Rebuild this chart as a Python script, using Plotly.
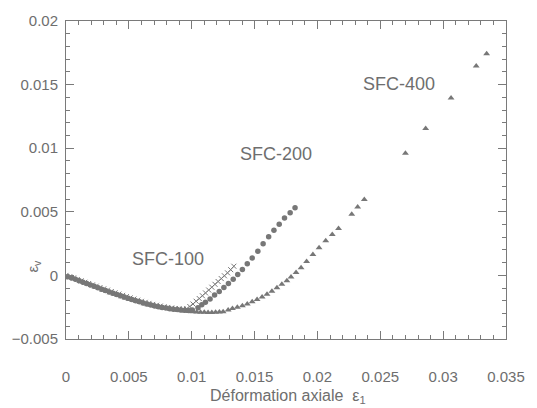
import plotly.graph_objects as go

# SFC-100 (crosses)
sfc100_x = [0.0, 0.0003, 0.0006, 0.0009, 0.0012, 0.0015, 0.0018, 0.0021, 0.0024, 0.0027,
            0.0030, 0.0033, 0.0036, 0.0039, 0.0042, 0.0045, 0.0048, 0.0051, 0.0054, 0.0057,
            0.0060, 0.0063, 0.0066, 0.0069, 0.0072, 0.0075, 0.0078, 0.0081, 0.0084, 0.0087,
            0.0090, 0.0093,
            0.00960, 0.00985, 0.01010, 0.01035, 0.01060, 0.01085, 0.01110, 0.01135, 0.01160,
            0.01185, 0.01210, 0.01235, 0.01260, 0.01285, 0.01310, 0.01335]
sfc100_y = [0.0, -0.0001, -0.0002, -0.00032, -0.00043, -0.00054, -0.00064, -0.00075, -0.00085, -0.00096,
            -0.00106, -0.00116, -0.00127, -0.00137, -0.00147, -0.00157, -0.00167, -0.00177, -0.00186, -0.00195,
            -0.00204, -0.00212, -0.0022, -0.00228, -0.00235, -0.00241, -0.00247, -0.00252, -0.00256, -0.0026,
            -0.00263, -0.00265,
            -0.00262, -0.00245, -0.00225, -0.00203, -0.00182, -0.00160, -0.00138, -0.00115, -0.00093,
            -0.00070, -0.00048, -0.00025, -0.00003, 0.00020, 0.00045, 0.00072]

# SFC-200 (circles)
sfc200_x = [0.00015, 0.00045, 0.00075, 0.00105, 0.00135, 0.00165, 0.00195, 0.00225, 0.00255, 0.00285,
            0.00315, 0.00345, 0.00375, 0.00405, 0.00435, 0.00465, 0.00495, 0.00525, 0.00555, 0.00585,
            0.00615, 0.00645, 0.00675, 0.00705, 0.00735, 0.00765, 0.00795, 0.00825, 0.00855, 0.00885,
            0.00915, 0.00945, 0.00975, 0.01005,
            0.01050, 0.01080, 0.01109, 0.01146, 0.01182, 0.01219, 0.01256, 0.01292, 0.01330, 0.01366,
            0.01403, 0.01442, 0.01481, 0.01526, 0.01568, 0.01612, 0.01654, 0.01696, 0.01738, 0.01783,
            0.01822]
sfc200_y = [-0.0001, -0.0002, -0.0003, -0.00042, -0.00053, -0.00064, -0.00075, -0.00086, -0.00097, -0.00108,
            -0.00119, -0.0013, -0.0014, -0.0015, -0.0016, -0.0017, -0.0018, -0.0019, -0.00199, -0.00208,
            -0.00217, -0.00225, -0.00233, -0.0024, -0.00246, -0.00252, -0.00257, -0.00262, -0.00266, -0.00269,
            -0.00272, -0.00274, -0.00275, -0.00272,
            -0.00255, -0.00230, -0.00211, -0.00185, -0.00154, -0.00126, -0.00095, -0.00064, -0.00030, 0.00008,
            0.00047, 0.00091, 0.00137, 0.00189, 0.00248, 0.00303, 0.00354, 0.00403, 0.00452, 0.00493,
            0.00532]

# SFC-400 (triangles)
sfc400_x = [0.0002, 0.0005, 0.0008, 0.0011, 0.0014, 0.0017, 0.0020, 0.0023, 0.0026, 0.0029,
            0.0032, 0.0035, 0.0038, 0.0041, 0.0044, 0.0047, 0.0050, 0.0053, 0.0056, 0.0059,
            0.0062, 0.0065, 0.0068, 0.0071, 0.0074, 0.0077, 0.0080, 0.0083, 0.0086, 0.0089,
            0.0092, 0.0095, 0.0098, 0.0101, 0.0104, 0.0107, 0.0110, 0.0113, 0.0116, 0.0119,
            0.0122,
            0.01250, 0.01290, 0.01324, 0.01363, 0.01403, 0.01442, 0.01481, 0.01520, 0.01560, 0.01599,
            0.01638, 0.01678, 0.01717, 0.01757, 0.01790, 0.01830, 0.01870, 0.01914, 0.01964, 0.02013,
            0.02066, 0.02118, 0.02168, 0.02273, 0.02320, 0.02373,
            0.02700, 0.02861, 0.03063, 0.03263, 0.03346]
sfc400_y = [-0.0001, -0.0002, -0.00032, -0.00044, -0.00056, -0.00068, -0.0008, -0.00092, -0.00103, -0.00114,
            -0.00125, -0.00136, -0.00147, -0.00157, -0.00167, -0.00177, -0.00187, -0.00196, -0.00205, -0.00214,
            -0.00222, -0.0023, -0.00237, -0.00244, -0.0025, -0.00256, -0.00261, -0.00266, -0.0027, -0.00274,
            -0.00277, -0.0028, -0.00283, -0.00285, -0.00287, -0.00289, -0.0029, -0.00291, -0.00291, -0.0029,
            -0.00288,
            -0.00285, -0.00272, -0.00260, -0.00250, -0.00238, -0.00224, -0.00208, -0.00190, -0.00170, -0.00148,
            -0.00124, -0.00098, -0.00070, -0.00042, -0.00012, 0.00022, 0.00060, 0.00110, 0.00165, 0.00218,
            0.00272, 0.00322, 0.00369, 0.00481, 0.00537, 0.00597,
            0.00960, 0.01154, 0.01394, 0.01647, 0.01742]

labels = ["SFC-100", "SFC-200", "SFC-400"]
label_x = [0.0081, 0.0167, 0.0265]
label_y = [0.00127, 0.00956, 0.01505]

MC = "#777777"
TC = "#6e6e6e"
AC = "#7a7a7a"
FONT = "Liberation Sans, Arial"

fig = go.Figure()
fig.add_trace(go.Scatter(x=sfc400_x, y=sfc400_y, mode="markers", name="SFC-400",
                         marker=dict(symbol="triangle-up", size=6, color=MC)))
fig.add_trace(go.Scatter(x=sfc200_x, y=sfc200_y, mode="markers", name="SFC-200",
                         marker=dict(symbol="circle", size=5.5, color=MC)))
fig.add_trace(go.Scatter(x=sfc100_x, y=sfc100_y, mode="markers", name="SFC-100",
                         marker=dict(symbol="x-thin", size=5, color=MC,
                                     line=dict(width=1, color=MC))))
# invisible copy on the overlay axes that carry the minor ticks
fig.add_trace(go.Scatter(x=sfc400_x, y=sfc400_y, mode="markers", xaxis="x2", yaxis="y2",
                         marker=dict(opacity=0), hoverinfo="skip", showlegend=False))

for t, lx, ly in zip(labels, label_x, label_y):
    fig.add_annotation(x=lx, y=ly, text=t, showarrow=False,
                       font=dict(family=FONT, size=18, color=TC))

fig.add_annotation(xref="paper", yref="paper", x=0.505, y=-0.18, yanchor="middle",
                   text="Déformation axiale  ε<sub>1</sub>", showarrow=False,
                   font=dict(family=FONT, size=16, color=TC))
fig.add_annotation(xref="paper", yref="paper", x=-0.074, y=0.229, xanchor="center",
                   yanchor="middle", textangle=-90,
                   text="ε<sub>v</sub>", showarrow=False,
                   font=dict(family=FONT, size=15, color=TC))

fig.update_layout(
    width=537, height=408, margin=dict(l=65, r=27, t=16, b=69),
    plot_bgcolor="white", showlegend=False,
    xaxis=dict(range=[0, 0.035], tick0=0, dtick=0.005, showgrid=False, zeroline=False,
               showline=True, linecolor=AC, linewidth=1, mirror="allticks",
               ticks="inside", ticklen=8, tickcolor=AC, tickwidth=1,
               tickfont=dict(family=FONT, size=15, color=TC), ticklabelstandoff=24),
    yaxis=dict(range=[-0.005, 0.02], tick0=0, dtick=0.005, showgrid=False, zeroline=False,
               showline=True, linecolor=AC, linewidth=1, mirror="allticks",
               ticks="inside", ticklen=8, tickcolor=AC, tickwidth=1,
               tickfont=dict(family=FONT, size=15, color=TC), ticklabelstandoff=4),
    xaxis2=dict(range=[0, 0.035], overlaying="x", anchor="y2", side="bottom",
                tick0=0, dtick=0.001, showgrid=False, zeroline=False, showticklabels=False,
                showline=False, mirror="allticks", ticks="inside", ticklen=4,
                tickcolor=AC, tickwidth=1),
    yaxis2=dict(range=[-0.005, 0.02], overlaying="y", anchor="x2", side="left",
                tick0=0, dtick=0.001, showgrid=False, zeroline=False, showticklabels=False,
                showline=False, mirror="allticks", ticks="inside", ticklen=4,
                tickcolor=AC, tickwidth=1),
)

fig.write_html("out.html")
